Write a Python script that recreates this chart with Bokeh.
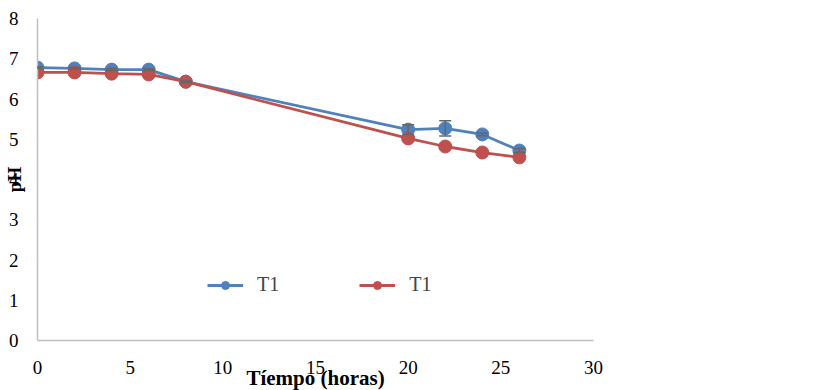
from bokeh.plotting import figure
from bokeh.models import (ColumnDataSource, FixedTicker, Legend, LegendItem, Whisker, TeeHead, Range1d)
from bokeh.embed import file_html
from bokeh.resources import INLINE

# Data
hours = [0, 2, 4, 6, 8, 20, 22, 24, 26]
ph_blue = [6.78, 6.76, 6.73, 6.73, 6.43, 5.24, 5.27, 5.12, 4.72]
err_blue = [0.02, 0.02, 0.02, 0.02, 0.02, 0.12, 0.19, 0.03, 0.05]
ph_red = [6.66, 6.66, 6.63, 6.61, 6.43, 5.02, 4.82, 4.67, 4.55]
series_names = ["T1", "T1"]
x_ticks = [0, 5, 10, 15, 20, 25, 30]
y_ticks = [0, 1, 2, 3, 4, 5, 6, 7, 8]

BLUE = "#4F81BD"
RED = "#C0504D"
FONT = "Liberation Serif"

p = figure(width=800, height=372, output_backend="svg", toolbar_location=None,
           x_range=Range1d(0, 30), y_range=Range1d(0, 8),
           min_border_left=5, min_border_top=18, min_border_right=10, min_border_bottom=5,
           frame_width=556, frame_height=322)
p.outline_line_color = None
p.xgrid.grid_line_color = None
p.ygrid.grid_line_color = None

src_b = ColumnDataSource(dict(x=hours, y=ph_blue,
                              lo=[v - e for v, e in zip(ph_blue, err_blue)],
                              hi=[v + e for v, e in zip(ph_blue, err_blue)]))
src_r = ColumnDataSource(dict(x=hours, y=ph_red))

lb = p.line("x", "y", source=src_b, line_color=BLUE, line_width=2.8)
cb = p.scatter("x", "y", source=src_b, size=13, fill_color=BLUE, line_color=BLUE)
lr = p.line("x", "y", source=src_r, line_color=RED, line_width=2.8)
cr = p.scatter("x", "y", source=src_r, size=13, fill_color=RED, line_color=RED)

wh = Whisker(base="x", lower="lo", upper="hi", source=src_b, line_color="#666666", line_width=1.5,
             level="overlay",
             upper_head=TeeHead(size=12, line_color="#666666", line_width=1.5),
             lower_head=TeeHead(size=12, line_color="#666666", line_width=1.5))
p.add_layout(wh)

for ax in (p.xaxis[0], p.yaxis[0]):
    ax.axis_line_color = "#BFBFBF"
    ax.axis_line_width = 1.5
    ax.major_tick_line_color = None
    ax.minor_tick_line_color = None
    ax.major_label_text_font = FONT
    ax.major_label_text_font_size = "19px"
    ax.major_label_text_color = "#000000"
    ax.axis_label_text_font = FONT
    ax.axis_label_text_font_style = "bold"
    ax.axis_label_text_color = "#000000"

p.xaxis.axis_label_text_font_size = "21px"
p.yaxis.axis_label_text_font_size = "19px"
p.xaxis.ticker = FixedTicker(ticks=x_ticks)
p.yaxis.ticker = FixedTicker(ticks=y_ticks)
p.xaxis.major_label_standoff = 14
p.yaxis.major_label_standoff = 13
p.xaxis.axis_label = "Tíempo (horas)"
p.yaxis.axis_label = "pH"
p.xaxis.axis_label_standoff = -11
p.yaxis.axis_label_standoff = -19

legend = Legend(items=[LegendItem(label=series_names[0], renderers=[lb, cb]),
                       LegendItem(label=series_names[1], renderers=[lr, cr])],
                orientation="horizontal", location=(170, 44),
                border_line_color=None, background_fill_alpha=0,
                label_text_font=FONT, label_text_font_size="20px",
                glyph_width=36, glyph_height=20, label_standoff=14, spacing=80,
                padding=0, margin=0)
p.add_layout(legend, "center")

open("out.html", "w").write(file_html(p, INLINE))
